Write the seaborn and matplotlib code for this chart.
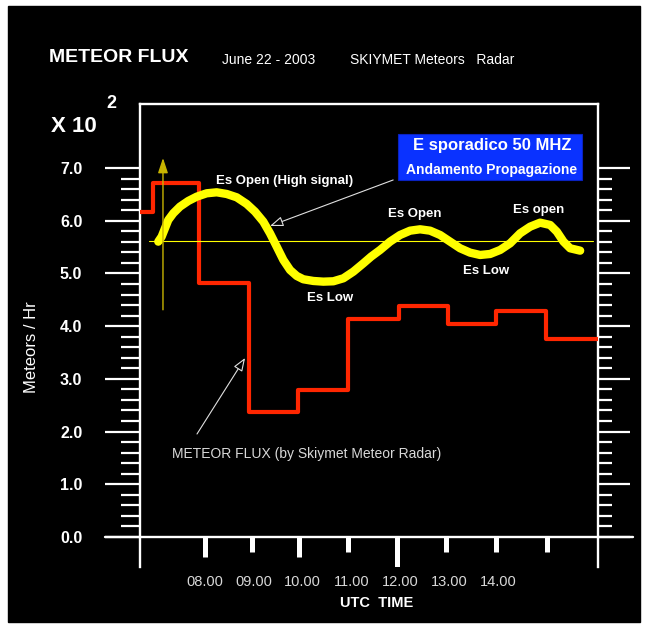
import numpy as np
import pandas as pd
import matplotlib
matplotlib.use("Agg")
import matplotlib.pyplot as plt
from matplotlib.patches import Rectangle
import seaborn as sns

# ---------------- data ----------------
flux_edges = [6.67, 6.94, 7.88, 8.90, 9.90, 10.93, 11.97, 12.97, 13.96, 14.98, 16.04]
flux_values = [6.17, 6.72, 4.82, 2.37, 2.79, 4.14, 4.38, 4.05, 4.29, 3.75]

es_hours = [7.044, 7.113, 7.181, 7.249, 7.351, 7.488, 7.659, 7.830, 8.034, 8.239,
            8.444, 8.648, 8.853, 9.023, 9.193, 9.330, 9.467, 9.603, 9.740, 9.877,
            10.012, 10.217, 10.421, 10.626, 10.831, 11.035, 11.240, 11.400, 11.582,
            11.786, 11.991, 12.196, 12.400, 12.605, 12.810, 13.014, 13.219, 13.424,
            13.628, 13.833, 14.038, 14.242, 14.447, 14.652, 14.856, 15.061, 15.198,
            15.334, 15.470, 15.675]
es_values = [5.603, 5.698, 5.856, 6.014, 6.141, 6.267, 6.375, 6.456, 6.520, 6.539,
             6.507, 6.444, 6.318, 6.172, 5.982, 5.761, 5.508, 5.255, 5.065, 4.952,
             4.889, 4.857, 4.844, 4.851, 4.908, 5.034, 5.192, 5.320, 5.445,
             5.603, 5.729, 5.811, 5.837, 5.811, 5.729, 5.603, 5.477, 5.394,
             5.350, 5.369, 5.445, 5.571, 5.761, 5.887, 5.963, 5.919, 5.792,
             5.603, 5.477, 5.432]
es_mean = 5.62
es_mean_span = [6.85, 15.94]

hour_tick_pos = [8.0, 8.96, 9.92, 10.93, 11.93, 12.93, 13.96, 15.0]
hour_tick_depth = [0.38, 0.285, 0.38, 0.285, 0.57, 0.285, 0.285, 0.285]
hour_label_pos = [8, 9, 10, 11, 12, 13, 14]
hour_labels = ["08.00", "09.00", "10.00", "11.00", "12.00", "13.00", "14.00"]
y_major = [0, 1, 2, 3, 4, 5, 6, 7]
y_labels = ["0.0", "1.0", "2.0", "3.0", "4.0", "5.0", "6.0", "7.0"]
y_minor = [i * 0.2 for i in range(36)]

# ---------------- figure ----------------
W, H = 649, 626
sns.set_style("white")
plt.rcParams["font.family"] = ["Liberation Sans", "DejaVu Sans"]

fig = plt.figure(figsize=(W / 100, H / 100), dpi=100, facecolor="white")
fig.add_artist(Rectangle((8 / W, 1 - 622 / H), (640 - 8) / W, (622 - 6) / H,
                         transform=fig.transFigure, color="black", zorder=-5))

ax = fig.add_axes([140 / W, 1 - 567 / H, 458 / W, 463 / H])
ax.set_facecolor("black")
XMIN, XMAX = 6.67, 16.04
YMIN, YMAX = -0.569, 8.214
ax.set_xlim(XMIN, XMAX)
ax.set_ylim(YMIN, YMAX)

# red step line
df_flux = pd.DataFrame({"hour": flux_edges, "flux": flux_values + [flux_values[-1]]})
sns.lineplot(data=df_flux, x="hour", y="flux", drawstyle="steps-post",
             color="#ff2600", lw=3.0, ax=ax, zorder=3)

# mean thin yellow line
ax.plot(es_mean_span, [es_mean, es_mean], color="#ffff00", lw=0.8, zorder=3.5)

# yellow Es curve
df_es = pd.DataFrame({"hour": es_hours, "es": es_values})
sns.lineplot(data=df_es, x="hour", y="es", sort=False, color="#ffff00", lw=6,
             ax=ax, zorder=4, solid_capstyle="round", solid_joinstyle="round")

# vertical arrow
ax.annotate("", xy=(7.14, 7.19), xytext=(7.14, 4.31),
            arrowprops=dict(arrowstyle="-|>,head_length=0.9,head_width=0.3",
                            color="#c8b400", lw=1.0, shrinkA=0, shrinkB=0), zorder=5)

# axes decoration
ax.set_xlabel("")
ax.set_ylabel("")
for s in ["left", "right", "top"]:
    ax.spines[s].set_color("white")
    ax.spines[s].set_linewidth(1.7)
    ax.spines[s].set_visible(True)
ax.spines["bottom"].set_visible(False)

ax.plot([-0.0764, 1.0764], [0, 0], transform=ax.get_yaxis_transform(),
        clip_on=False, color="white", lw=1.7, zorder=6)
ax.vlines(hour_tick_pos, [-d for d in hour_tick_depth], 0, colors="white",
          lw=3.6, zorder=6)

ax.set_yticks(y_major, y_labels)
ax.set_yticks(y_minor, minor=True)
ax.tick_params(axis="y", which="major", left=True, right=False, length=25,
               width=1.6, color="white", labelcolor="white", pad=16.5,
               labelsize=11.5, direction="out")
ax.tick_params(axis="y", which="minor", left=True, right=False, length=13.7,
               width=1.6, color="white", direction="out")
for t in ax.get_yticklabels():
    t.set_fontweight("bold")

ax.set_xticks(hour_label_pos, hour_labels)
ax.tick_params(axis="x", which="both", length=0, pad=6, labelcolor="#d8d8d8",
               labelsize=10.5, bottom=True)

ax2 = ax.twinx()
ax2.set_ylim(YMIN, YMAX)
ax2.set_yticks(y_major, [""] * len(y_major))
ax2.set_yticks(y_minor, minor=True)
ax2.tick_params(axis="y", which="major", right=True, length=23, width=1.6,
                color="white", direction="out")
ax2.tick_params(axis="y", which="minor", right=True, length=10, width=1.6,
                color="white", direction="out")
for s in ax2.spines.values():
    s.set_visible(False)
ax2.patch.set_visible(False)

# annotations
txt_kw = dict(color="white", fontweight="bold", fontsize=9.5, ha="center",
              va="center", zorder=7)
ax.text(9.62, 6.754, "Es Open (High signal)", **txt_kw)
ax.text(10.56, 4.534, "Es Low", **txt_kw)
ax.text(12.30, 6.128, "Es Open", **txt_kw)
ax.text(14.82, 6.204, "Es open", **txt_kw)
ax.text(13.75, 5.047, "Es Low", **txt_kw)
ax.text(7.325, 1.575, "METEOR FLUX (by Skiymet Meteor Radar)", color="#d8d8d8",
        fontsize=10, ha="left", va="center", zorder=7)

arrow_kw = dict(arrowstyle="-|>,head_length=0.8,head_width=0.3", ec="#e0e0e0",
                fc="black", lw=0.8, shrinkA=0, shrinkB=0)
ax.annotate("", xy=(9.33, 5.90), xytext=(11.85, 6.773), arrowprops=arrow_kw, zorder=7)
ax.annotate("", xy=(8.82, 3.396), xytext=(7.836, 1.954), arrowprops=arrow_kw, zorder=7)

ax.add_patch(Rectangle((11.95, 6.773), 15.716 - 11.95, 7.646 - 6.773,
                       facecolor="#0a32ff", edgecolor="#0a22c0", lw=0.8, zorder=8))
ax.text(13.874, 7.418, "E sporadico 50 MHZ", color="white", fontweight="bold",
        fontsize=12, ha="center", va="center", zorder=9)
ax.text(13.864, 6.963, "Andamento Propagazione", color="white", fontweight="bold",
        fontsize=10, ha="center", va="center", zorder=9)

# figure texts
def ftxt(x, y, s, **kw):
    fig.text(x / W, 1 - y / H, s, **kw)

ftxt(49, 58, "METEOR FLUX", color="white", fontweight="bold", fontsize=14,
     ha="left", va="center")
ftxt(222, 60, "June 22 - 2003", color="white", fontsize=10, ha="left", va="center")
ftxt(350, 60, "SKIYMET Meteors   Radar", color="white", fontsize=10,
     ha="left", va="center")
ftxt(51, 126, "X 10", color="white", fontweight="bold", fontsize=16,
     ha="left", va="center")
ftxt(106, 103, "2", color="white", fontweight="bold", fontsize=13,
     ha="left", va="center")
ftxt(32, 347, "Meteors / Hr", color="white", fontsize=12, rotation=90,
     ha="center", va="center")
ftxt(377, 603, "UTC  TIME", color="white", fontweight="bold", fontsize=10.5,
     ha="center", va="center")

fig.savefig("out.png", dpi=100, facecolor="white")
